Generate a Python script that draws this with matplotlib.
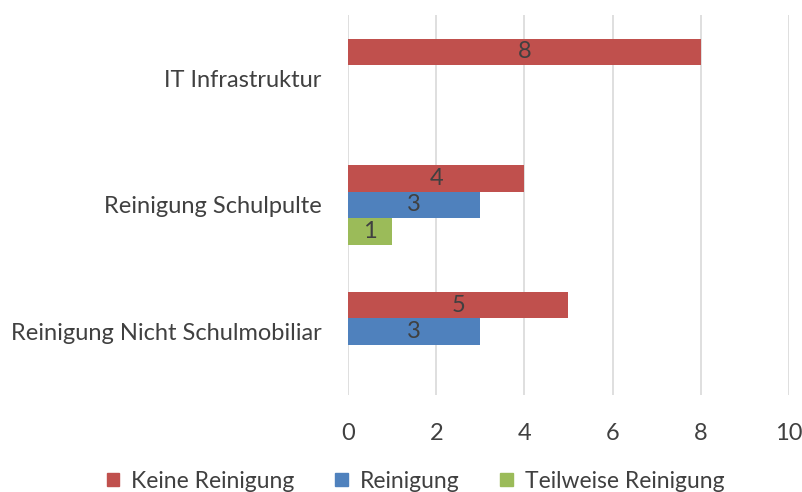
import numpy as np
import matplotlib.pyplot as plt
from matplotlib.patches import Patch

# Daten
kategorien = ['Reinigung Nicht Schulmobiliar', 'Reinigung Schulpulte', 'IT Infrastruktur']
keine_reinigung = [5, 4, 8]
reinigung = [3, 3, np.nan]
teilweise = [np.nan, 1, np.nan]

serien = ['Keine Reinigung', 'Reinigung', 'Teilweise Reinigung']
farben = ['#C0504D', '#4F81BD', '#9BBB59']
x_ticks = [0, 2, 4, 6, 8, 10]

plt.rcParams['font.family'] = ['Lato', 'DejaVu Sans']
textfarbe = '#404040'
fs = 17

fig = plt.figure(figsize=(8.02, 4.92), dpi=100)
ax = fig.add_axes([0.4339, 0.1972, 0.5499, 0.7723])

y = np.arange(len(kategorien))
h = 0.209
offsets = [h, 0, -h]
werte = [keine_reinigung, reinigung, teilweise]

for vals, off, col in zip(werte, offsets, farben):
    vals = np.array(vals, dtype=float)
    mask = ~np.isnan(vals)
    bars = ax.barh(y[mask] + off, vals[mask], height=h, color=col, zorder=3)
    ax.bar_label(bars, labels=[f'{v:g}' for v in vals[mask]], label_type='center',
                 color=textfarbe, fontsize=fs)

ax.set_xlim(0, 10)
ax.set_ylim(-0.5, 2.5)
ax.set_xticks(x_ticks)
ax.set_yticks(y)
ax.set_yticklabels(kategorien)
ax.tick_params(axis='both', length=0, labelsize=fs, labelcolor=textfarbe)
ax.tick_params(axis='x', pad=20)
ax.tick_params(axis='y', pad=19)
ax.grid(axis='x', color='#D9D9D9', linewidth=1.2, zorder=0)
for s in ax.spines.values():
    s.set_visible(False)

handles = [Patch(color=c, label=l) for c, l in zip(farben, serien)]
fig.legend(handles=handles, loc='center', bbox_to_anchor=(0.518, 0.022), ncol=3,
           frameon=False, fontsize=16.5, labelcolor=textfarbe, handlelength=0.55,
           handleheight=0.55, handletextpad=0.5, columnspacing=1.8)

fig.savefig('out.png', dpi=100)
